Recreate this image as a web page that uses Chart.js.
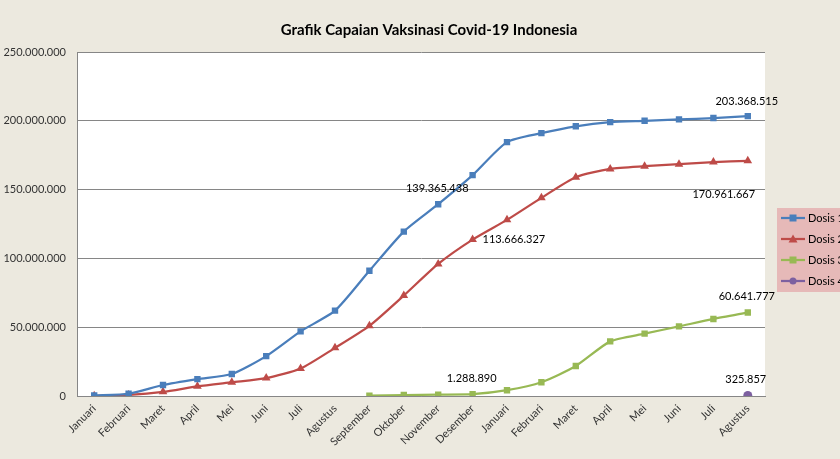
<!DOCTYPE html>
<html>
<head>
<meta charset="utf-8">
<script src="https://cdn.jsdelivr.net/npm/chart.js@4.4.0/dist/chart.umd.min.js"></script>
<style>
  html, body { margin: 0; padding: 0; background: #ece9df; }
  #wrap { width: 840px; height: 459px; position: relative; }
</style>
</head>
<body>
<div id="wrap"><canvas id="myChart" width="840" height="459"></canvas></div>
<script>
var bulan = ['Januari', 'Februari', 'Maret', 'April', 'Mei', 'Juni', 'Juli', 'Agustus',
  'September', 'Oktober', 'November', 'Desember',
  'Januari', 'Februari', 'Maret', 'April', 'Mei', 'Juni', 'Juli', 'Agustus'];

var dosis1 = [500000, 1600000, 8000000, 12300000, 16000000, 29000000, 47000000, 62000000,
  91000000, 119500000, 139365438, 160500000,
  184500000, 191000000, 196000000, 199000000, 200000000, 201000000, 202000000, 203368515];

var dosis2 = [100000, 800000, 3000000, 7000000, 10000000, 13000000, 20000000, 35000000,
  51000000, 73000000, 96000000, 113666327,
  128000000, 144000000, 159000000, 165000000, 167000000, 168500000, 170000000, 170961667];

var dosis3 = [null, null, null, null, null, null, null, null,
  300000, 700000, 1000000, 1288890,
  4200000, 10000000, 21800000, 39700000, 45300000, 50600000, 56000000, 60641777];

var dosis4 = [null, null, null, null, null, null, null, null,
  null, null, null, null,
  null, null, null, null, null, null, null, 325857];

var namaSeri = ['Dosis 1', 'Dosis 2', 'Dosis 3', 'Dosis 4'];
var warna = ['#4a7ebb', '#be4b48', '#98b954', '#7d60a0'];
var titik = ['rect', 'triangle', 'rect', 'circle'];
var yTicks = [0, 50000000, 100000000, 150000000, 200000000, 250000000];

// which points get a value label: [dataset, index, dx, dy, align]
var labelTitik = [
  [0, 10, -1, -16, 'center'],
  [1, 11, 10, 0, 'left'],
  [0, 19, -1, -15, 'center'],
  [1, 19, -24, 34, 'center'],
  [2, 19, -1, -16, 'center'],
  [2, 11, -1, -16, 'center'],
  [3, 19, -2, -16, 'center']
];

function angka(v) {
  return String(Math.round(v)).replace(/\B(?=(\d{3})+(?!\d))/g, '.');
}

var seri = [dosis1, dosis2, dosis3, dosis4];
var datasets = [];
for (var i = 0; i < seri.length; i++) {
  datasets.push({
    label: namaSeri[i],
    data: seri[i],
    borderColor: warna[i],
    backgroundColor: warna[i],
    borderWidth: 2.25,
    pointStyle: titik[i],
    pointRadius: titik[i] === 'triangle' ? 5 : 4.5,
    pointBorderWidth: 0,
    tension: 0.22,
    spanGaps: false
  });
}

var FONT = 'Lato, "Noto Sans", sans-serif';

var hiasan = {
  id: 'hiasan',
  beforeDraw: function (chart) {
    var c = chart.ctx, a = chart.chartArea;
    c.save();
    c.fillStyle = '#ece9df';
    c.fillRect(0, 0, chart.width, chart.height);
    c.fillStyle = '#ffffff';
    c.fillRect(a.left, a.top, a.right - a.left, a.bottom - a.top);
    c.restore();
  },
  afterDraw: function (chart) {
    var c = chart.ctx;
    c.save();
    // title
    c.fillStyle = '#000';
    c.font = 'bold 15px ' + FONT;
    c.textAlign = 'center';
    c.textBaseline = 'middle';
    c.fillText('Grafik Capaian Vaksinasi Covid-19 Indonesia', 429, 30);

    // value labels
    c.font = '11px ' + FONT;
    labelTitik.forEach(function (l) {
      var p = chart.getDatasetMeta(l[0]).data[l[1]];
      c.textAlign = l[4];
      c.fillText(angka(seri[l[0]][l[1]]), p.x + l[2], p.y + l[3]);
    });

    // legend
    c.fillStyle = '#e6b9b8';
    c.fillRect(777, 208, 80, 84);
    c.font = '11px ' + FONT;
    c.textAlign = 'left';
    for (var k = 0; k < namaSeri.length; k++) {
      var y = 218 + k * 21;
      c.strokeStyle = warna[k];
      c.lineWidth = 2.25;
      c.beginPath();
      c.moveTo(781, y);
      c.lineTo(805, y);
      c.stroke();
      c.fillStyle = warna[k];
      c.beginPath();
      if (titik[k] === 'rect') {
        c.rect(789.5, y - 3.5, 7, 7);
      } else if (titik[k] === 'triangle') {
        c.moveTo(793, y - 4.5);
        c.lineTo(797.5, y + 3.5);
        c.lineTo(788.5, y + 3.5);
        c.closePath();
      } else {
        c.arc(793, y, 3.5, 0, Math.PI * 2);
      }
      c.fill();
      c.fillStyle = '#000';
      c.fillText(namaSeri[k], 808, y);
    }
    c.restore();
  }
};

var ctx = document.getElementById('myChart').getContext('2d');
new Chart(ctx, {
  type: 'line',
  data: { labels: bulan, datasets: datasets },
  options: {
    responsive: false,
    animation: false,
    layout: { padding: { left: 0, right: 75, top: 52, bottom: 0 } },
    plugins: {
      legend: { display: false },
      title: { display: false },
      tooltip: { enabled: false }
    },
    scales: {
      x: {
        offset: true,
        grid: { display: false, drawTicks: false },
        border: { color: '#868686', width: 1 },
        ticks: {
          color: '#333',
          font: { family: FONT, size: 11 },
          maxRotation: 45,
          minRotation: 45,
          autoSkip: false,
          padding: 6
        },
        afterFit: function (s) { s.height = 63; }
      },
      y: {
        min: 0,
        max: 250000000,
        afterBuildTicks: function (s) {
          s.ticks = yTicks.map(function (v) { return { value: v }; });
        },
        grid: { color: '#868686', drawTicks: false, lineWidth: 1 },
        border: { color: '#868686', width: 1 },
        ticks: {
          color: '#333',
          font: { family: FONT, size: 11 },
          padding: 11,
          callback: function (v) { return angka(v); }
        },
        afterFit: function (s) { s.width = 77; }
      }
    }
  },
  plugins: [hiasan]
});
</script>
</body>
</html>
